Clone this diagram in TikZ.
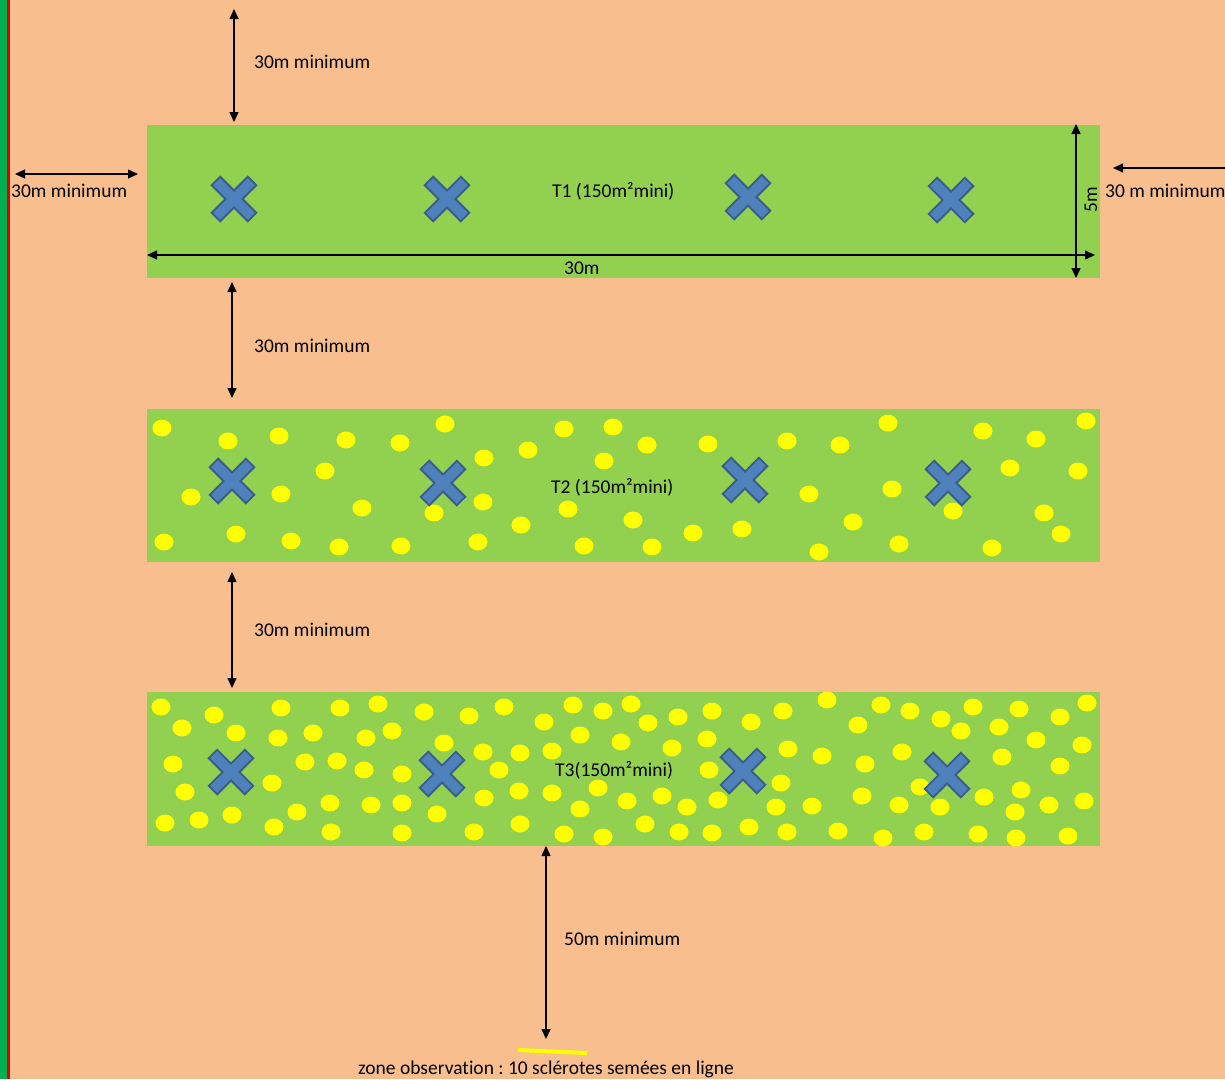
\documentclass[tikz,border=0pt]{standalone}
\usepackage{fontspec}
\setmainfont{Carlito}[Ligatures=NoCommon]
\frenchspacing
\usetikzlibrary{arrows.meta}
\definecolor{bg}{HTML}{F8BE8E}
\definecolor{field}{HTML}{92D050}
\definecolor{dotc}{HTML}{FFFF00}
\definecolor{xfill}{HTML}{4F81BD}
\definecolor{xline}{HTML}{385D8A}
\definecolor{barg}{HTML}{00B050}
\definecolor{barr}{HTML}{E00000}
\begin{document}
\begin{tikzpicture}[x=1pt,y=-1pt,
  lbl/.style={font=\fontsize{19.5}{21}\selectfont, inner sep=0pt, text=black, anchor=base west},
  dimarrow/.style={draw=black, line width=1.3pt, {Triangle[length=10pt,width=9pt]}-{Triangle[length=10pt,width=9pt]}},
  onearrow/.style={draw=black, line width=1.3pt, -{Triangle[length=10pt,width=9pt]}},
  fieldbox/.style={fill=field},
  seed/.style={fill=dotc},
  xmark/.pic={\draw[xline, fill=xfill, line width=1.8pt, rotate=45]
     (-6,-25.5) -- (6,-25.5) -- (6,-6) -- (25.5,-6) -- (25.5,6) -- (6,6) -- (6,25.5)
     -- (-6,25.5) -- (-6,6) -- (-25.5,6) -- (-25.5,-6) -- (-6,-6) -- cycle;}]
\useasboundingbox (0,0) rectangle (1225,1079);
\fill[bg] (0,0) rectangle (1225,1079);
\fill[barg] (0,0) rectangle (7,1079);
\fill[barr] (7,0) rectangle (9.5,1079);

% fields
\path[fieldbox] (147,125) rectangle (1100,278);
\path[fieldbox] (147,409) rectangle (1100,562);
\path[fieldbox] (147,692) rectangle (1100,846);
\coordinate (T1bl) at (147,255);
\coordinate (T1br) at (1095,255);
\coordinate (T1top) at (1076,124);
\coordinate (T1bot) at (1076,278);

% T2 seeds
\foreach \x/\y in {162/428,228/441,279/436,346/440,400/443,445/424,484/458,528/450,191/497,281/494,325/471,362/508,434/513,483/502,521/525,164/542,236/534,291/541,339/547,401/546,478/542,
564/429,613/427,647/445,604/461,708/444,787/441,840/445,888/423,983/431,1036/439,1086/421,1010/468,1078/471,568/509,633/520,809/494,892/489,953/511,853/522,1044/513,1061/534,584/546,652/547,693/533,742/529,819/552,899/544,992/548}
  \path[seed] (\x,\y) ellipse [x radius=9.5, y radius=8.5];

% T3 seeds
\foreach \x/\y in {161/707,214/715,182/728,236/733,281/708,278/738,313/733,340/708,378/704,366/738,392/731,424/712,469/716,504/707,544/722,444/743,173/764,305/762,337/761,364/770,402/774,483/752,499/770,520/753,552/751,185/792,272/783,484/798,519/791,552/793,165/823,199/820,232/815,297/812,330/803,371/805,402/803,437/814,274/827,331/832,402/833,474/832,520/824,
573/705,603/711,631/704,648/723,678/717,712/711,751/722,783/711,827/700,881/705,910/711,941/719,973/707,1019/709,1060/717,1087/703,858/725,961/731,999/727,1036/740,1082/745,580/735,621/742,672/748,707/739,788/749,822/756,865/764,902/752,1002/757,1060/766,709/770,781/783,598/788,627/801,662/796,687/807,718/800,580/809,776/807,812/806,862/796,899/805,920/787,940/807,984/797,1021/790,1015/812,1049/805,1084/801,564/834,603/837,645/824,679/832,712/833,749/827,787/832,838/831,883/838,924/832,978/834,1016/838,1068/836}
  \path[seed] (\x,\y) ellipse [x radius=9.5, y radius=8.5];

% crosses
\foreach \x/\y in {234/199,447/199,748/197,951/200,232/481,443/483,745/480,948/483,231/772,442/774,743/771,947/775}
  \pic at (\x,\y) {xmark};

% field labels
\node[lbl] (t1) at (552,197) {T1 (150m²mini)};
\node[lbl] (t2) at (551,493) {T2 (150m²mini)};
\node[lbl] (t3) at (555,776) {T3(150m²mini)};

% dimension arrows in T1
\draw[dimarrow] (T1bl) -- (T1br);
\draw[dimarrow] (T1top) -- (T1bot);
\node[lbl] (w30) at (564,274) {30m};
\node[font=\fontsize{19.5}{21}\selectfont, inner sep=0pt, rotate=90] (h5) at (1091,200) {5m};

% spacing arrows
\coordinate (a1) at (234,9);
\coordinate (a2) at (234,122);
\draw[dimarrow] (a1) -- (a2);
\node[lbl] (m1) at (254,68) {30m minimum};

\coordinate (l1) at (15,174);
\coordinate (l2) at (138,174);
\draw[dimarrow] (l1) -- (l2);
\node[lbl] (m2) at (11,197) {30m minimum};

\coordinate (r1) at (1226,168);
\coordinate (r2) at (1113,168);
\draw[onearrow] (r1) -- (r2);
\node[lbl] (m3) at (1105,197) {30 m minimum};

\coordinate (b1) at (232,282);
\coordinate (b2) at (232,398);
\draw[dimarrow] (b1) -- (b2);
\node[lbl] (m4) at (254,352) {30m minimum};

\coordinate (c1) at (232,572);
\coordinate (c2) at (232,688);
\draw[dimarrow] (c1) -- (c2);
\node[lbl] (m5) at (254,636) {30m minimum};

\coordinate (d1) at (546,846);
\coordinate (d2) at (546,1039);
\draw[dimarrow] (d1) -- (d2);
\node[lbl] (m6) at (564,945) {50m minimum};

% observation zone
\coordinate (z1) at (518,1050);
\coordinate (z2) at (587,1053);
\draw[dotc, line width=4pt] (z1) -- (z2);
\node[lbl, anchor=base] (zone) at (546,1074) {zone observation : 10 sclérotes semées en ligne};
\end{tikzpicture}
\end{document}
